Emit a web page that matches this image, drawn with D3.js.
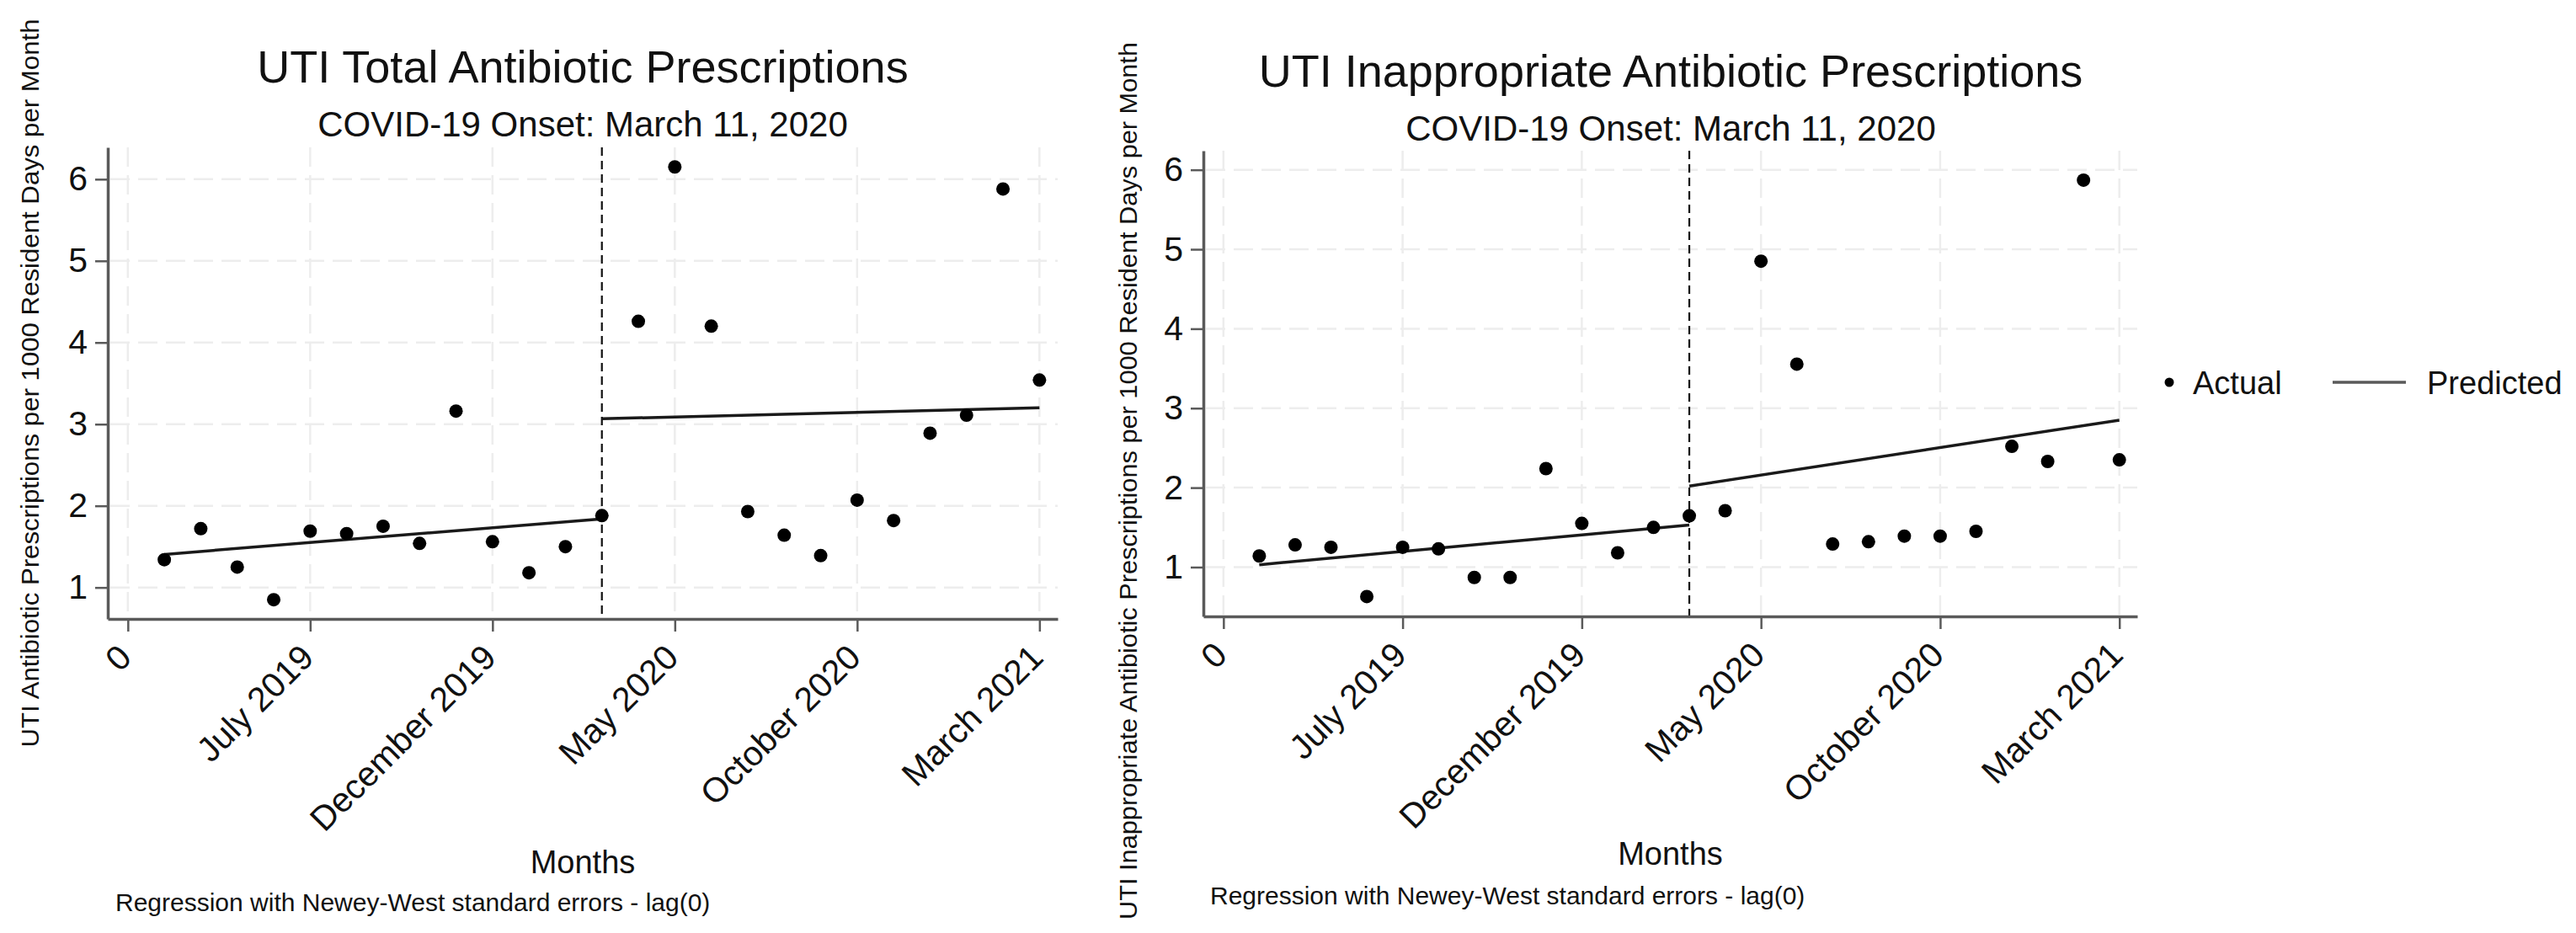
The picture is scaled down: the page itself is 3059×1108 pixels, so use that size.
<!DOCTYPE html>
<html>
<head>
<meta charset="utf-8">
<script src="https://cdn.jsdelivr.net/npm/d3@7"></script>
<style>
  body { margin: 0; background: #fff; }
  svg { font-family: "Liberation Sans", Arial, Helvetica, sans-serif; }
</style>
</head>
<body>
<svg id="chart" width="3059" height="1108"></svg>
<script>

// ========================================= DATA =========================================
const months = [1, 2, 3, 4, 5, 6, 7, 8, 9, 10, 11, 12, 13, 14, 15, 16, 17, 18, 19, 20, 21, 22, 23, 24, 25];
const tickMonths = [0, 5, 10, 15, 20, 25];
const tickLabels = ["0", "July 2019", "December 2019", "May 2020", "October 2020", "March 2021"];
const yTicks = [1, 2, 3, 4, 5, 6];
const onsetMonth = 13;

// @ total prescriptions (left panel)
const totalActual = [1.34, 1.72, 1.25, 0.85, 1.69, 1.66, 1.75, 1.54, 3.16, 1.56, 1.18, 1.50, 1.88,
                     4.26, 6.15, 4.20, 1.93, 1.64, 1.39, 2.07, 1.82, 2.89, 3.11, 5.88, 3.54];
// @ inappropriate prescriptions (right panel)
const inappActual = [1.14, 1.28, 1.25, 0.63, 1.25, 1.23, 0.87, 0.87, 2.24, 1.55, 1.18, 1.50, 1.645,
                     1.71, 4.85, 3.555, 1.29, 1.32, 1.39, 1.39, 1.45, 2.52, 2.33, 5.87, 2.35];

// @ predicted segments: [value at start month, value at end month]
const preMonths = [1, 13];
const postMonths = [13, 25];
const totalPredPre = [1.405, 1.84];
const totalPredPost = [3.066, 3.20];
const inappPredPre = [1.03, 1.53];
const inappPredPost = [2.02, 2.85];

// ======================================= LAYOUT =========================================
const panels = [
  {
    title: "UTI Total Antibiotic Prescriptions",
    ytitle: "UTI Antibiotic Prescriptions per 1000 Resident Days per Month",
    actual: totalActual, pre: totalPredPre, post: totalPredPost,
    x0: 128, x1: 1256, yTop: 175, yBot: 735, xDom: [-0.55, 25.5], yDom: [0.615, 6.39],
    titleX: 692, titleY: 98, subY: 162, ytX: 46, ytY: 455, ytLen: 865,
    monthsY: 1037, noteX: 137, noteY: 1082
  },
  {
    title: "UTI Inappropriate Antibiotic Prescriptions",
    ytitle: "UTI Inappropriate Antibiotic Prescriptions per 1000 Resident Days per Month",
    actual: inappActual, pre: inappPredPre, post: inappPredPost,
    x0: 1429, x1: 2538, yTop: 179, yBot: 732, xDom: [-0.56, 25.5], yDom: [0.38, 6.24],
    titleX: 1984, titleY: 103, subY: 167, ytX: 1350, ytY: 571, ytLen: 1042,
    monthsY: 1027, noteX: 1437, noteY: 1074
  }
];

const svg = d3.select("#chart");
const axisColor = "#5a5a5a";
const gridColor = "#ededed";

panels.forEach(p => drawPanel(p));
drawLegend();

// ===================================== DRAW PANEL =======================================
function drawPanel(p) {
  const x = d3.scaleLinear().domain(p.xDom).range([p.x0, p.x1]);
  const y = d3.scaleLinear().domain(p.yDom).range([p.yBot, p.yTop]);
  const g = svg.append("g");

  // @ grid (dashed, light)
  g.selectAll(".hgrid").data(yTicks).enter().append("line")
    .attr("x1", p.x0 + 3).attr("x2", p.x1)
    .attr("y1", d => y(d)).attr("y2", d => y(d))
    .attr("stroke", gridColor).attr("stroke-width", 2.5).attr("stroke-dasharray", "23,10");

  g.selectAll(".vgrid").data(tickMonths).enter().append("line")
    .attr("x1", d => x(d)).attr("x2", d => x(d))
    .attr("y1", p.yTop).attr("y2", p.yBot)
    .attr("stroke", gridColor).attr("stroke-width", 2.5).attr("stroke-dasharray", "23,10");

  // @ onset line
  g.append("line")
    .attr("x1", x(onsetMonth)).attr("x2", x(onsetMonth))
    .attr("y1", p.yTop).attr("y2", p.yBot)
    .attr("stroke", "#111").attr("stroke-width", 2.2).attr("stroke-dasharray", "10,6");

  // @ axes
  const yAxis = g.append("g")
    .attr("transform", `translate(${p.x0},0)`)
    .call(d3.axisLeft(y).tickValues(yTicks).tickFormat(d3.format("d"))
      .tickSize(15).tickSizeOuter(0).tickPadding(9));
  yAxis.selectAll("text").style("font-size", "41px").attr("fill", "#111");

  const xAxis = g.append("g")
    .attr("transform", `translate(0,${p.yBot})`)
    .call(d3.axisBottom(x).tickValues(tickMonths).tickFormat((d, i) => tickLabels[i])
      .tickSize(15).tickSizeOuter(0));
  xAxis.selectAll("text")
    .style("font-size", "41px").attr("fill", "#111")
    .attr("x", 0).attr("y", 0).attr("dy", "0.35em")
    .attr("text-anchor", "end")
    .attr("transform", "translate(-4,38) rotate(-45)");

  [yAxis, xAxis].forEach(a => {
    a.select(".domain").attr("stroke", axisColor).attr("stroke-width", 3.5);
    a.selectAll(".tick line").attr("stroke", axisColor).attr("stroke-width", 2.5);
  });

  // @ predicted lines
  const line = d3.line().x(d => x(d[0])).y(d => y(d[1]));
  [d3.zip(preMonths, p.pre), d3.zip(postMonths, p.post)].forEach(seg => {
    g.append("path").attr("d", line(seg))
      .attr("fill", "none").attr("stroke", "#1a1a1a").attr("stroke-width", 3.5);
  });

  // @ actual points
  g.selectAll(".pt").data(d3.zip(months, p.actual)).enter().append("circle")
    .attr("cx", d => x(d[0])).attr("cy", d => y(d[1])).attr("r", 8)
    .attr("fill", "#000");

  // @ texts
  g.append("text").attr("x", p.titleX).attr("y", p.titleY)
    .attr("text-anchor", "middle").style("font-size", "54px").attr("fill", "#111")
    .text(p.title);
  g.append("text").attr("x", p.titleX).attr("y", p.subY)
    .attr("text-anchor", "middle").style("font-size", "42px").attr("fill", "#111")
    .text("COVID-19 Onset: March 11, 2020");
  g.append("text")
    .attr("transform", `translate(${p.ytX},${p.ytY}) rotate(-90)`)
    .attr("text-anchor", "middle").style("font-size", "30px").attr("fill", "#111")
    .attr("textLength", p.ytLen).attr("lengthAdjust", "spacingAndGlyphs")
    .text(p.ytitle);
  g.append("text").attr("x", (p.x0 + p.x1) / 2).attr("y", p.monthsY)
    .attr("text-anchor", "middle").style("font-size", "38px").attr("fill", "#111")
    .text("Months");
  g.append("text").attr("x", p.noteX).attr("y", p.noteY)
    .style("font-size", "30px").attr("fill", "#111")
    .text("Regression with Newey-West standard errors - lag(0)");
}

// ======================================= LEGEND =========================================
function drawLegend() {
  const lg = svg.append("g").attr("transform", "translate(2576,454)");
  lg.append("circle").attr("r", 5.5).attr("fill", "#000");
  lg.append("text").attr("x", 28).attr("y", 0).attr("dy", "0.36em")
    .style("font-size", "38px").attr("fill", "#111").text("Actual");
  lg.append("line").attr("x1", 194).attr("x2", 281)
    .attr("stroke", axisColor).attr("stroke-width", 3.5);
  lg.append("text").attr("x", 306).attr("y", 0).attr("dy", "0.36em")
    .style("font-size", "38px").attr("fill", "#111").text("Predicted");
}
</script>
</body>
</html>
